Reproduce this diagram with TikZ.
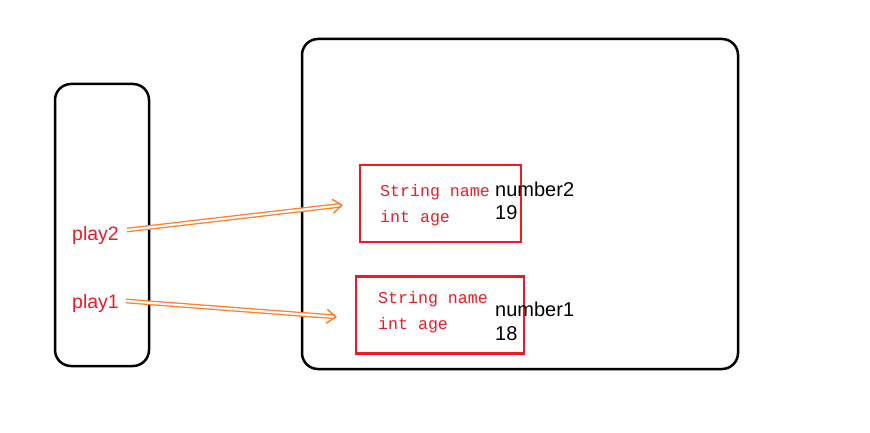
\documentclass[tikz,border=0pt]{standalone}
\usepackage{fontspec}
\setmainfont{Liberation Sans}
\newfontfamily\codefont{Liberation Mono}
\usetikzlibrary{arrows.meta}
\definecolor{boxred}{RGB}{237,28,36}
\definecolor{arrorange}{RGB}{255,127,39}
\tikzset{
  frame/.style={draw=black, line width=2.5pt, rounded corners=16pt},
  objbox/.style={draw=boxred, line width=2.5pt, minimum width=#1, minimum height=77pt, inner sep=0pt},
  code/.style={anchor=west, inner sep=0pt, text=boxred, font=\codefont\fontsize{16.6}{18}\selectfont},
  val/.style={anchor=west, inner sep=0pt, font=\fontsize{20}{22}\selectfont},
  ref/.style={anchor=west, inner sep=0pt, text=boxred, font=\fontsize{19.5}{21}\selectfont},
  pointer/.style={draw=arrorange, double=white, double distance=2.2pt, line width=1.3pt, -{Straight Barb[length=9pt,width=14pt,line width=1.5pt]}}
}
\begin{document}
\begin{tikzpicture}[x=1pt,y=-1pt]
\useasboundingbox (0,0) rectangle (870,433);
\draw[frame] (55,84) rectangle (149,366);
\draw[frame] (302,39) rectangle (738,369);
\node[objbox=161pt] (o2) at (440.5,203.5) {};
\node[objbox=168pt] (o1) at (440,315) {};
\node[code] (n2) at (380,192) {String name};
\node[code] (a2) at (380,218) {int age};
\node[code] (n1) at (378,299) {String name};
\node[code] (a1) at (378,325) {int age};
\node[val] (v2) at (495,189) {number2};
\node[val] (w2) at (495,213) {19};
\node[val] (v1) at (495,309) {number1};
\node[val] (w1) at (495,334) {18};
\node[ref] (p2) at (72,235) {play2};
\node[ref] (p1) at (72,303) {play1};
\coordinate (t2) at (343,205);
\coordinate (t1) at (337,317);
\draw[pointer] ([xshift=8pt,yshift=5pt]p2.east) -- (t2);
\draw[pointer] ([xshift=7pt,yshift=2pt]p1.east) -- (t1);
\end{tikzpicture}
\end{document}
